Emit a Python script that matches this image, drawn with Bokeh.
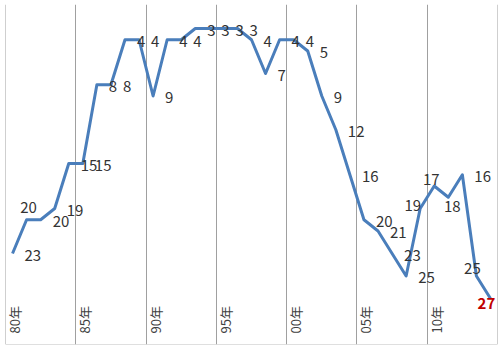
import math
from bokeh.plotting import figure
from bokeh.models import Range1d, FixedTicker, Span, Grid, ColumnDataSource
from bokeh.core.properties import value
from bokeh.embed import file_html
from bokeh.resources import INLINE

# ---- data ----
years = list(range(1980, 2015))
ranks = [23, 20, 20, 19, 15, 15, 8, 8, 4, 4,
         9, 4, 4, 3, 3, 3, 3, 4, 7, 4,
         4, 5, 9, 12, 16, 20, 21, 23, 25, 19,
         17, 18, 16, 25, 27]
tick_years = [1980, 1985, 1990, 1995, 2000, 2005, 2010]
tick_labels = ["80年", "85年", "90年", "95年", "00年", "05年", "10年"]
highlight_year = 2014

# ---- label placement (style) ----
special = {
    1981: dict(align="center", dx=2, dy=-12),
    2009: dict(align="right", dx=1, dy=-3),
    2010: dict(align="center", dx=-3, dy=-6),
    2011: dict(align="center", dx=4, dy=9),
    2013: dict(align="center", dx=-4, dy=-7),
    2014: dict(align="center", dx=-4, dy=5),
}
default_pos = dict(align="left", dx=12, dy=2)

FONT = "Noto Sans CJK JP"
y_bottom, y_top = 31.09, 0.867
x_left, x_right = years[0] - 0.5, years[-1] + 0.5

p = figure(width=500, height=352, output_backend="svg", toolbar_location=None,
           x_range=Range1d(x_left, x_right),
           y_range=Range1d(y_bottom, y_top),
           x_axis_location=None, y_axis_location=None,
           min_border_left=5, min_border_right=3, min_border_top=4, min_border_bottom=8)
p.outline_line_color = None
p.background_fill_color = "white"
p.border_fill_color = "white"
for g in p.grid:
    g.visible = False

grid_ticks = [y - 0.5 for y in tick_years[1:]]
p.add_layout(Grid(dimension=0, ticker=FixedTicker(ticks=grid_ticks),
                  grid_line_color="#a0a0a0", grid_line_width=1))
for loc in (x_left, x_right):
    p.add_layout(Span(location=loc, dimension="height", line_color="#a0a0a0", line_width=1))
p.add_layout(Span(location=y_bottom, dimension="width", line_color="#bfbfbf", line_width=1))

p.line(years, ranks, line_color="#4a7ebb", line_width=3, line_join="round")

groups = {}
for yr, rk in zip(years, ranks):
    pos = special.get(yr, default_pos)
    key = (pos["align"], pos["dx"], pos["dy"], yr == highlight_year)
    groups.setdefault(key, ([], [], []))
    groups[key][0].append(yr)
    groups[key][1].append(rk)
    groups[key][2].append(str(rk))

for (align, dx, dy, hl), (xs, ys, ts) in groups.items():
    src = ColumnDataSource(dict(x=xs, y=ys, t=ts))
    p.text(x="x", y="y", text="t", source=src,
           text_align=align, text_baseline="middle",
           x_offset=dx, y_offset=dy,
           text_font=value(FONT), text_font_size="15px",
           text_color="#c00000" if hl else "#333333",
           text_font_style="bold" if hl else "normal")

lab_src = ColumnDataSource(dict(x=tick_years, y=[y_bottom] * len(tick_years), t=tick_labels))
p.text(x="x", y="y", text="t", source=lab_src, angle=math.pi / 2,
       text_align="left", text_baseline="middle", x_offset=2, y_offset=-11,
       text_font=value(FONT), text_font_size="13px", text_color="#404040")

open("out.html", "w").write(file_html(p, INLINE))
